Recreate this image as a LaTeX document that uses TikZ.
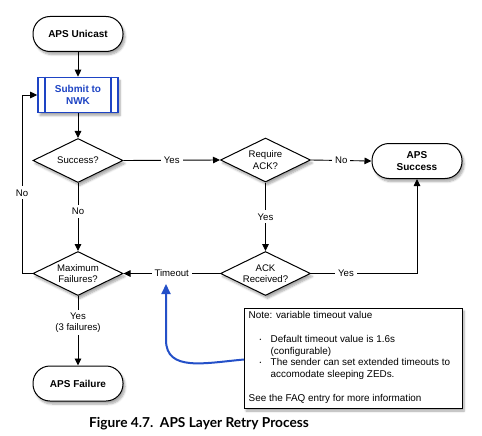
\documentclass[tikz,border=0pt]{standalone}
\usepackage{fontspec}
\setmainfont{Liberation Sans}
\newfontfamily\capfont{Lato}
\usetikzlibrary{shapes.geometric,arrows.meta,shadows.blur,calc}
\definecolor{nwkblue}{HTML}{1E44C4}
\definecolor{curveblue}{HTML}{2450C8}
\begin{document}
\begin{tikzpicture}[x=1pt,y=-1pt,
  font=\fontsize{9.6}{11.2}\selectfont,
  every node/.style={inner sep=0pt},
  shade/.style={blur shadow={shadow xshift=2pt,shadow yshift=-3pt,shadow opacity=35,shadow blur steps=6}},
  term/.style={draw,line width=1pt,fill=white,rounded corners=17pt,minimum width=90pt,minimum height=35pt,align=center,font=\fontsize{10}{11.6}\selectfont\bfseries,shade},
  procbox/.style={draw=nwkblue,line width=1.6pt,fill=white,minimum width=80pt,minimum height=35pt,align=center,text=nwkblue,font=\fontsize{10}{11.6}\selectfont\bfseries,shade},
  dia/.style={draw,line width=1pt,fill=white,diamond,minimum width=90pt,minimum height=44pt,shade},
  conn/.style={line width=0.9pt,-{Triangle[length=7pt,width=6.5pt]}},
  plain/.style={line width=0.9pt},
  lbl/.style={fill=white,inner sep=3pt,align=center},
  notebox/.style={draw,line width=1pt,fill=white,minimum width=218pt,minimum height=100pt,shade},
]
\useasboundingbox (0,0) rectangle (482,436);

\node[term] (uni) at (78,34) {APS Unicast};
\node[procbox] (sub) at (78,95) {Submit to\\NWK};
\draw[nwkblue,line width=1.6pt] ([xshift=8pt]sub.north west) -- ([xshift=8pt]sub.south west)
  ([xshift=-8pt]sub.north east) -- ([xshift=-8pt]sub.south east);

\node[dia] (succ) at (78,160.5) {};
\node (succt) at (succ) {Success?};
\node[dia] (req) at (265.5,160) {};
\node[align=center] (reqt) at (req) {Require\\ACK?};
\node[term] (apss) at (417,161) {APS\\Success};
\node[dia] (ackr) at (265.5,273.5) {};
\node[align=center] (ackrt) at (ackr) {ACK\\Received?};
\node[dia] (mf) at (78,273.5) {};
\node[align=center] (mft) at (mf) {Maximum\\Failures?};
\node[term] (apsf) at (78,383.5) {APS Failure};

\node[notebox] (note) at (353,358) {};
\node[anchor=north west,align=left,font=\fontsize{9.9}{11.7}\selectfont] (notet) at (248.5,311.5)
{Note: variable timeout value\\[12pt]
\hspace*{11pt}\makebox[11pt][l]{\raisebox{1pt}{\tiny\textbullet}}Default timeout value is 1.6s\\
\hspace*{22pt}(configurable)\\
\hspace*{11pt}\makebox[11pt][l]{\raisebox{1pt}{\tiny\textbullet}}The sender can set extended timeouts to\\
\hspace*{22pt}accomodate sleeping ZEDs.\\[12pt]
See the FAQ entry for more information};

\coordinate (lc) at (22,273.5);
\coordinate (tip) at (166,284);
\coordinate (cstart) at (244,359.5);

\draw[conn] (uni) -- (sub);
\draw[conn] (sub) -- (succ);
\draw[conn] (succ.east) -- node[lbl]{Yes} (req.west);
\draw[conn] (req.east) -- node[lbl]{No} (apss.west);
\draw[conn] (req.south) -- node[lbl]{Yes} (ackr.north);
\draw[conn] (ackr.east) -| node[lbl,pos=0.165]{Yes} (apss.south);
\draw[conn] (ackr.west) -- node[lbl]{Timeout} (mf.east);
\draw[conn] (succ.south) -- node[lbl,pos=0.42]{No} (mf.north);
\draw[plain] (mf.west) -- (lc);
\draw[conn] (lc) |- node[lbl,pos=0.226]{No} (sub.west);
\draw[conn] (mf.south) -- node[lbl,pos=0.38]{Yes\\(3 failures)} (apsf.north);

\draw[curveblue,line width=2pt,-{Triangle[length=10pt,width=9pt]}]
  (cstart) .. controls (205,363) and (166,372) .. (166,340) -- (tip);

\node[font=\capfont\fontsize{13.7}{15}\selectfont\bfseries] (cap) at (199,424) {Figure 4.7.\ \ APS Layer Retry Process};
\end{tikzpicture}
\end{document}
